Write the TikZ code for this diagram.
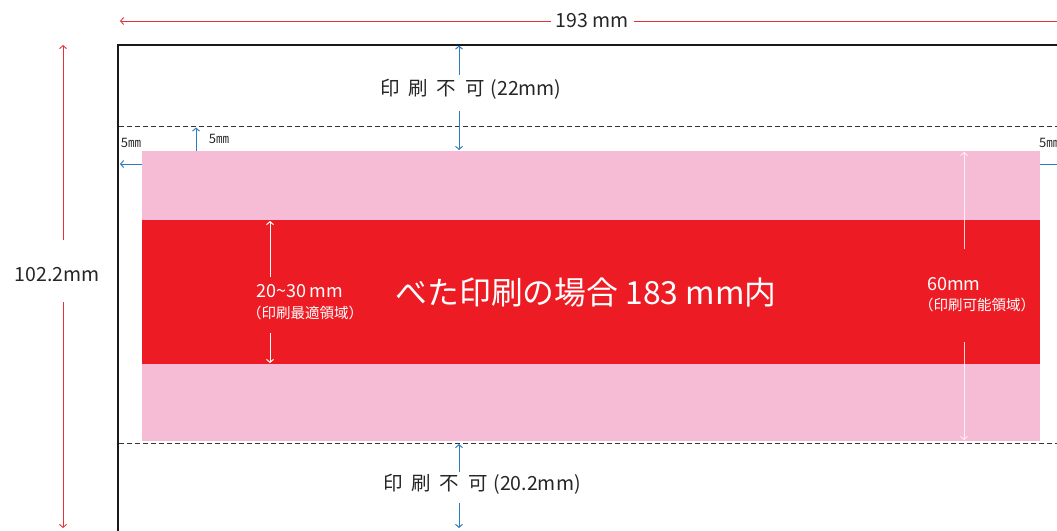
\documentclass[tikz,border=0pt]{standalone}
\usepackage{fontspec}
\setmainfont{Noto Sans CJK JP}
\usetikzlibrary{arrows.meta}
\definecolor{pinkbg}{HTML}{F6BBD5}
\definecolor{redband}{HTML}{ED1C24}
\definecolor{dimred}{HTML}{E53238}
\definecolor{dimblue}{HTML}{2F7BC2}
\tikzset{
  barb/.style={-{Straight Barb[length=3pt,width=7pt]}},
  reddim/.style={barb, draw=dimred, line width=0.9pt},
  bluedim/.style={barb, draw=dimblue, line width=1pt},
  whitedim/.style={barb, draw=white, line width=1pt},
  whitethin/.style={barb, draw=white, draw opacity=0.8, line width=0.8pt},
  dashline/.style={draw=black!80, line width=1pt, dash pattern=on 5pt off 3pt},
  lbl/.style={inner sep=0pt, font=\fontsize{19.5}{22}\selectfont, text=black!85},
  small/.style={inner sep=0pt, font=\fontsize{13}{15}\selectfont, text=black!85},
  wlbl/.style={inner sep=0pt, text=white, align=center},
}
\begin{document}
\begin{tikzpicture}[x=1pt,y=-1pt]
\useasboundingbox (0,0) rectangle (1057,530);
% colour areas
\fill[pinkbg] (142,151) rectangle (1040,441);
\fill[redband] (142,220) rectangle (1040,364);
% frame
\draw[line width=2pt, black!90] (118,545) -- (118,45) -- (1070,45);
% dashed limits
\draw[dashline] (119,126.5) -- (1057,126.5);
\draw[dashline] (119,443) -- (1057,443);

% top width dimension
\node[lbl] (w) at (592,21) {193 mm};
\coordinate (wl) at (120,21);
\coordinate (wr) at (1057,21);
\draw[reddim] ([xshift=-4pt]w.west) -- (wl);
\draw[dimred, line width=0.9pt] ([xshift=5pt]w.east) -- (wr);

% left height dimension
\node[lbl] (h) at (57,275) {102.2mm};
\coordinate (ha) at (63,240);
\coordinate (hat) at (63,45);
\coordinate (hb) at (63,302);
\coordinate (hbt) at (63,528);
\draw[reddim] (ha) -- (hat);
\draw[reddim] (hb) -- (hbt);

% top no-print
\node[lbl] (tn) at (471,89) {印\hspace{.45em}刷\hspace{.45em}不\hspace{.45em}可\hspace{.3em}(22mm)};
\coordinate (tna) at (459,75);
\coordinate (tnat) at (459,45.5);
\coordinate (tnb) at (459,111);
\coordinate (tnbt) at (459,150);
\draw[bluedim] (tna) -- (tnat);
\draw[bluedim] (tnb) -- (tnbt);

% bottom no-print
\node[lbl] (bn) at (482,484) {印\hspace{.45em}刷\hspace{.45em}不\hspace{.45em}可\hspace{.3em}(20.2mm)};
\coordinate (bna) at (459,472);
\coordinate (bnat) at (459,444);
\coordinate (bnb) at (459,503);
\coordinate (bnbt) at (459,528);
\draw[bluedim] (bna) -- (bnat);
\draw[bluedim] (bnb) -- (bnbt);

% 5mm margins
\node[small] (m1) at (131,143) {5㎜};
\coordinate (m1a) at (142,164);
\coordinate (m1t) at (120,164);
\draw[bluedim] (m1a) -- (m1t);
\node[small] (m2) at (219,139) {5㎜};
\coordinate (m2a) at (196,151);
\coordinate (m2t) at (196,127.5);
\draw[bluedim] (m2a) -- (m2t);
\node[small, anchor=west] (m3) at (1039,143) {5㎜};
\coordinate (m3a) at (1040,164);
\coordinate (m3t) at (1057,164);
\draw[dimblue, line width=1pt] (m3a) -- (m3t);

% main text
\node[wlbl, font=\fontsize{31.8}{36}\selectfont] (main) at (586,292) {べた印刷の場合 183 mm内};

% optimum band
\node[wlbl, font=\fontsize{18}{20}\selectfont] (opt) at (300,291) {20\string~30\,mm};
\node[wlbl, font=\fontsize{14.5}{16}\selectfont] (optj) at (305,313) {（印刷最適領域）};
\coordinate (oa) at (270,277);
\coordinate (oat) at (270,221);
\coordinate (ob) at (270,333);
\coordinate (obt) at (270,363);
\draw[whitedim] (oa) -- (oat);
\draw[whitedim] (ob) -- (obt);

% printable area
\node[wlbl, font=\fontsize{18}{20}\selectfont, anchor=west] (pa) at (927,284) {60mm};
\node[wlbl, font=\fontsize{14.5}{16}\selectfont] (paj) at (977,305) {（印刷可能領域）};
\coordinate (pa1) at (964,249);
\coordinate (pa1t) at (964,152);
\coordinate (pa2) at (964,342);
\coordinate (pa2t) at (964,440);
\draw[whitethin] (pa1) -- (pa1t);
\draw[whitethin] (pa2) -- (pa2t);
\end{tikzpicture}
\end{document}
